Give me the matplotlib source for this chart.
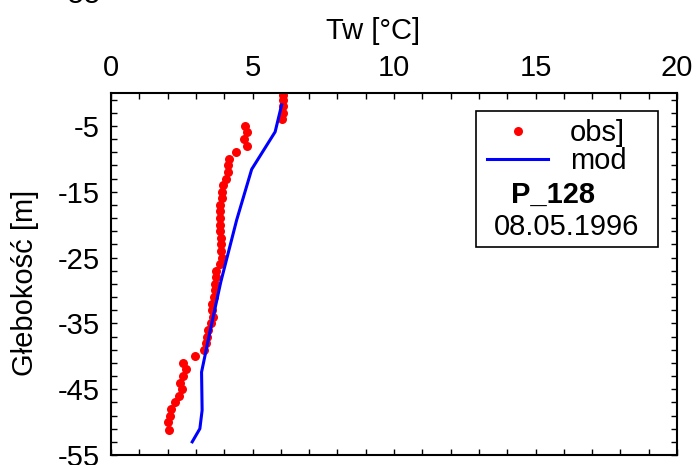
import matplotlib
matplotlib.use('Agg')
from matplotlib import pyplot as plt
from matplotlib.patches import Rectangle
from matplotlib.ticker import MultipleLocator

# measured water temperature profile (obs) and model output (mod), station P_128
obs_depth = [-0.3, -1, -2, -3, -4, -5, -6, -7, -8, -9, -10, -11, -12, -13, -14, -15, -16, -17,
             -18, -19, -20, -21, -22, -23, -24, -25, -26, -27, -28, -29, -30, -31, -32, -33, -34,
             -35, -36, -37, -38, -39, -40, -41, -42, -43, -44, -45, -46, -47, -48, -49, -50, -51.2]
obs_temp = [6.07, 6.07, 6.07, 6.09, 6.03, 4.73, 4.79, 4.70, 4.79, 4.41, 4.18, 4.12, 4.14, 4.08,
            3.94, 3.91, 3.91, 3.85, 3.85, 3.85, 3.85, 3.85, 3.87, 3.87, 3.87, 3.93, 3.85, 3.71,
            3.71, 3.67, 3.67, 3.65, 3.56, 3.56, 3.59, 3.53, 3.42, 3.38, 3.35, 3.30, 2.97, 2.56,
            2.65, 2.53, 2.44, 2.50, 2.40, 2.26, 2.12, 2.08, 2.02, 2.06]

mod_depth = [-1.8, -5.9, -11.6, -19.3, -28.7, -35.8, -42.4, -48.2, -51.0, -53.0]
mod_temp = [6.03, 5.80, 4.97, 4.44, 3.88, 3.52, 3.20, 3.22, 3.14, 2.87]

station = 'P_128'
date = '08.05.1996'

plt.rcParams['font.family'] = ['Liberation Sans', 'DejaVu Sans']
plt.rcParams['axes.unicode_minus'] = False
fs = 21

fig = plt.figure(figsize=(6.99, 4.65), dpi=100)
ax = fig.add_axes([111 / 699, 1 - 455 / 465, 566 / 699, 362 / 465])

ax.plot(obs_temp, obs_depth, 'o', color='#ff0000', markersize=6.5, markeredgewidth=0, label='obs]')
ax.plot(mod_temp, mod_depth, '-', color='#0000ff', linewidth=2.2, label='mod')

ax.set_xlim(0, 20)
ax.set_ylim(-55, 0)
ax.xaxis.set_major_locator(MultipleLocator(5))
ax.xaxis.set_minor_locator(MultipleLocator(1))
ax.set_yticks([-5, -15, -25, -35, -45, -55])
ax.set_yticks([v for v in range(-1, -56, -2) if (v + 5) % 10 != 0], minor=True)

ax.xaxis.tick_top()
for which in ('major', 'minor'):
    ax.tick_params(axis='both', which=which, direction='in', length=4, width=1,
                   top=True, bottom=True, left=True, right=True)
ax.tick_params(axis='x', which='major', labeltop=True, labelbottom=False, labelsize=fs, pad=8)
ax.tick_params(axis='y', which='major', labelsize=fs, pad=8)
[s.set_linewidth(1.5) for s in ax.spines.values()]

fig.text(373 / 699, 1 - 31 / 465, 'Tw [°C]', fontsize=fs, ha='center', va='center')
fig.text(25 / 699, 1 - 283 / 465, 'Głebokość [m]', fontsize=fs, ha='center', va='center',
         rotation=90)
# tail of a label from the panel above, clipped by the top edge
fig.text(101 / 699, 1 - 3 / 465, '-55', fontsize=fs, ha='right', va='baseline')

# legend box with station and date
fig.patches.append(Rectangle((476 / 699, 1 - 247 / 465), 182 / 699, 136 / 465,
                             transform=fig.transFigure, fill=False, edgecolor='black',
                             linewidth=1.2))
ax.legend(loc='center left', bbox_to_anchor=(487 / 699, 1 - 147 / 465),
          bbox_transform=fig.transFigure, frameon=False, fontsize=fs, borderpad=0,
          borderaxespad=0, handlelength=2.1, handletextpad=0.75, labelspacing=0.0,
          numpoints=1)
fig.text(553 / 699, 1 - 195 / 465, station, fontsize=fs, fontweight='bold',
         ha='center', va='center')
fig.text(567 / 699, 1 - 227 / 465, date, fontsize=fs, ha='center', va='center')

fig.savefig('out.png', dpi=100)
plt.close(fig)
